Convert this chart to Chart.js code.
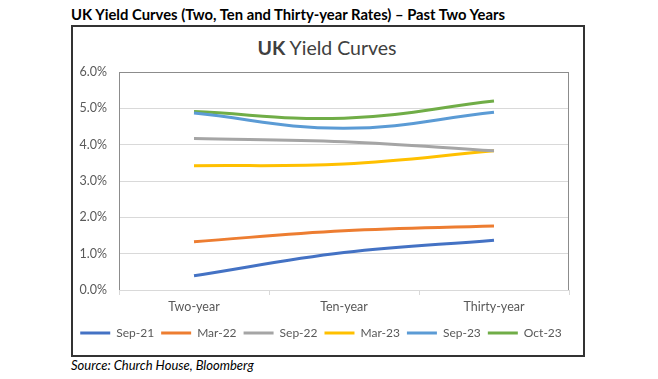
<!DOCTYPE html>
<html><head><meta charset="utf-8">
<script src="https://cdn.jsdelivr.net/npm/chart.js@4"></script>
<style>
html,body{margin:0;padding:0;background:#fff;width:658px;height:379px;overflow:hidden;font-family:Lato,"Open Sans",sans-serif;}
#head{position:absolute;left:71px;top:5px;font-weight:bold;font-size:14.8px;color:#000;white-space:nowrap;}
#box{position:absolute;left:71px;top:25px;width:510px;height:328px;border:2px solid #333;}
#ctitle{position:absolute;left:72px;top:36px;width:510px;text-align:center;font-size:19.5px;color:#404040;}
#wrap{position:absolute;left:73px;top:27px;width:510px;height:328px;}
#src{position:absolute;left:71px;top:357px;font-style:italic;font-size:13px;color:#000;white-space:nowrap;}
</style></head><body>
<div id="head">UK Yield Curves (Two, Ten and Thirty-year Rates) – Past Two Years</div>
<div id="box"></div>
<div id="ctitle"><b>UK</b> Yield Curves</div>
<div id="wrap"><canvas id="c" width="510" height="328"></canvas></div>
<div id="src">Source: Church House, Bloomberg</div>
<script>
const categories = ["Two-year", "Ten-year", "Thirty-year"];
const seriesNames = ["Sep-21", "Mar-22", "Sep-22", "Mar-23", "Sep-23", "Oct-23"];
const sep21 = [0.39, 1.03, 1.37];
const mar22 = [1.33, 1.63, 1.76];
const sep22 = [4.17, 4.08, 3.83];
const mar23 = [3.42, 3.47, 3.83];
const sep23 = [4.87, 4.45, 4.89];
const oct23 = [4.91, 4.73, 5.20];
const yTicks = [0, 1, 2, 3, 4, 5, 6];
const colors = ["#4472C4", "#ED7D31", "#A5A5A5", "#FFC000", "#5B9BD5", "#70AD47"];
const values = [sep21, mar22, sep22, mar23, sep23, oct23];

const borderPlugin = {
  id: 'plotBorder',
  afterDraw(chart) {
    const {ctx, chartArea: a} = chart;
    ctx.save();
    ctx.strokeStyle = '#8c8c8c';
    ctx.lineWidth = 1;
    ctx.beginPath();
    ctx.moveTo(a.left + 0.5, a.bottom);
    ctx.lineTo(a.left + 0.5, a.top + 0.5);
    ctx.lineTo(a.right - 0.5, a.top + 0.5);
    ctx.lineTo(a.right - 0.5, a.bottom);
    ctx.stroke();
    ctx.restore();
  }
};

new Chart(document.getElementById('c'), {
  type: 'line',
  data: {
    labels: categories,
    datasets: seriesNames.map((n, i) => ({
      label: n,
      data: values[i],
      borderColor: colors[i],
      backgroundColor: colors[i],
      borderWidth: 3,
      pointRadius: 0,
      tension: 0.4,
      fill: false
    }))
  },
  options: {
    responsive: false,
    animation: false,
    layout: {padding: {top: 45, right: 14, left: 0, bottom: 6}},
    plugins: {
      title: {display: false},
      tooltip: {enabled: false},
      legend: {
        position: 'bottom',
        labels: {
          boxWidth: 30, boxHeight: 3, padding: 7,
          color: '#595959',
          font: {family: 'Lato', size: 12},
          generateLabels(chart) {
            return chart.data.datasets.map((d, i) => ({
              text: d.label, fillStyle: d.borderColor, strokeStyle: d.borderColor,
              lineWidth: 0, datasetIndex: i, hidden: false, fontColor: '#595959'
            }));
          }
        }
      }
    },
    scales: {
      x: {
        offset: true,
        grid: {offset: true, drawOnChartArea: false, drawTicks: true, tickLength: 5, color: '#d9d9d9'},
        border: {color: '#d9d9d9'},
        ticks: {color: '#595959', font: {family: 'Lato', size: 12.5}, padding: 4},
        afterFit(s) { s.height = 30; }
      },
      y: {
        min: 0, max: 6,
        afterBuildTicks(s) { s.ticks = yTicks.map(v => ({value: v})); },
        grid: {color: (c) => c.tick && c.tick.value === 6 ? '#8c8c8c' : '#d9d9d9', drawTicks: false},
        border: {display: false},
        ticks: {color: '#595959', font: {family: 'Lato', size: 12.5}, padding: 12,
          callback: (v) => v.toFixed(1) + '%'},
        afterFit(s) { s.width = 46; }
      }
    }
  },
  plugins: [borderPlugin]
});
</script>
</body></html>
